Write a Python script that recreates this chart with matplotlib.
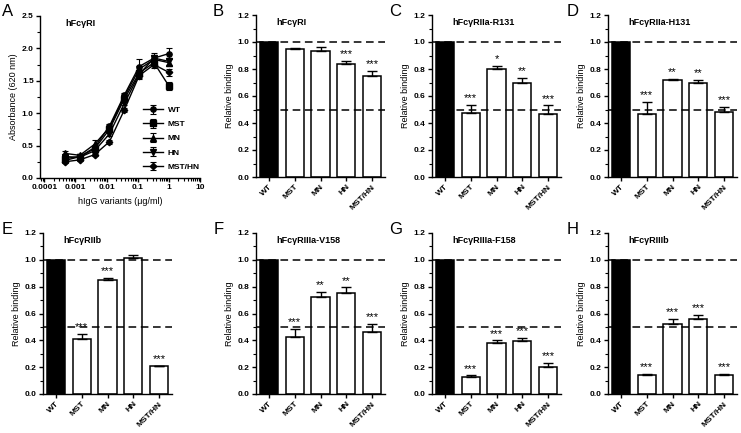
import matplotlib
matplotlib.use("Agg")
import matplotlib.pyplot as plt
import numpy as np
from matplotlib.ticker import MultipleLocator, LogLocator, NullFormatter

plt.rcParams['font.family'] = ['Liberation Sans', 'DejaVu Sans']
plt.rcParams['axes.linewidth'] = 1.0

# ---- panel A: dose response ----
conc = [0.000457, 0.00137, 0.0041, 0.0123, 0.037, 0.111, 0.333, 1.0]
abs_wt = [0.27, 0.33, 0.47, 0.80, 1.28, 1.72, 1.85, 1.92]
abs_mst = [0.30, 0.33, 0.45, 0.75, 1.22, 1.62, 1.78, 1.42]
abs_mn = [0.38, 0.35, 0.52, 0.78, 1.25, 1.68, 1.83, 1.78]
abs_hn = [0.33, 0.32, 0.42, 0.68, 1.15, 1.60, 1.85, 1.80]
abs_msthn = [0.25, 0.28, 0.36, 0.56, 1.05, 1.58, 1.75, 1.63]
err_wt = [0.02, 0.02, 0.03, 0.03, 0.03, 0.12, 0.05, 0.08]
err_mst = [0.02, 0.02, 0.02, 0.03, 0.03, 0.05, 0.05, 0.06]
err_mn = [0.03, 0.02, 0.06, 0.03, 0.03, 0.05, 0.05, 0.05]
err_hn = [0.02, 0.02, 0.02, 0.03, 0.03, 0.05, 0.08, 0.05]
err_msthn = [0.02, 0.02, 0.02, 0.03, 0.03, 0.05, 0.05, 0.05]

# ---- panels B-H: relative binding ----
variants = ['WT', 'MST', 'MN', 'HN', 'MST/HN']
titles = ['hFcγRI', 'hFcγRIIa-R131', 'hFcγRIIa-H131', 'hFcγRIIb',
          'hFcγRIIIa-V158', 'hFcγRIIIa-F158', 'hFcγRIIIb']
letters = ['B', 'C', 'D', 'E', 'F', 'G', 'H']
rel_RI = [1.0, 0.95, 0.935, 0.835, 0.75]
err_RI = [0.0, 0.005, 0.025, 0.025, 0.035]
sig_RI = ['', '', '', '***', '***']
rel_R131 = [1.0, 0.475, 0.80, 0.695, 0.47]
err_R131 = [0.0, 0.06, 0.025, 0.04, 0.06]
sig_R131 = ['', '***', '*', '**', '***']
rel_H131 = [1.0, 0.465, 0.72, 0.70, 0.48]
err_H131 = [0.0, 0.09, 0.008, 0.02, 0.04]
sig_H131 = ['', '***', '**', '**', '***']
rel_RIIb = [1.0, 0.41, 0.85, 1.01, 0.205]
err_RIIb = [0.0, 0.04, 0.015, 0.025, 0.006]
sig_RIIb = ['', '***', '***', '', '***']
rel_V158 = [1.0, 0.425, 0.72, 0.755, 0.465]
err_V158 = [0.0, 0.06, 0.04, 0.04, 0.06]
sig_V158 = ['', '***', '**', '**', '***']
rel_F158 = [1.0, 0.13, 0.38, 0.395, 0.20]
err_F158 = [0.0, 0.008, 0.02, 0.025, 0.03]
sig_F158 = ['', '***', '***', '***', '***']
rel_RIIIb = [1.0, 0.145, 0.52, 0.56, 0.14]
err_RIIIb = [0.0, 0.005, 0.04, 0.03, 0.01]
sig_RIIIb = ['', '***', '***', '***', '***']

rels = [rel_RI, rel_R131, rel_H131, rel_RIIb, rel_V158, rel_F158, rel_RIIIb]
errs = [err_RI, err_R131, err_H131, err_RIIb, err_V158, err_F158, err_RIIIb]
sigs = [sig_RI, sig_R131, sig_H131, sig_RIIb, sig_V158, sig_F158, sig_RIIIb]

W, H = 741, 433
fig = plt.figure(figsize=(W / 100, H / 100), dpi=100)


def px_axes(x0, x1, ytop, ybot):
    return fig.add_axes([x0 / W, (H - ybot) / H, (x1 - x0) / W, (ybot - ytop) / H])


def style(ax):
    for s in ['top', 'right']:
        ax.spines[s].set_visible(False)
    ax.tick_params(which='major', direction='out', length=3, width=1.0,
                   labelsize=6, pad=1.5)
    ax.tick_params(which='minor', direction='out', length=2, width=0.8)
    for lab in ax.get_xticklabels() + ax.get_yticklabels():
        lab.set_fontweight('bold')


# panel A
axA = px_axes(40, 200, 16, 178)
markers = ['o', 's', '^', 'v', 'D']
series = [abs_wt, abs_mst, abs_mn, abs_hn, abs_msthn]
serr = [err_wt, err_mst, err_mn, err_hn, err_msthn]
for ys, es, m, lab in zip(series, serr, markers, variants):
    ms = 3.3 if m == 'D' else 3.8
    axA.errorbar(conc, ys, yerr=es, color='black', marker=m, markersize=ms,
                 lw=1.0, capsize=2, elinewidth=0.8, capthick=0.8, label=lab)
axA.set_xscale('log')
axA.set_xlim(10 ** -4.14, 10)
axA.set_ylim(0, 2.5)
axA.set_xticks([0.0001, 0.001, 0.01, 0.1, 1, 10])
axA.set_xticklabels(['0.0001', '0.001', '0.01', '0.1', '1', '10'])
axA.xaxis.set_minor_locator(LogLocator(base=10, subs=np.arange(2, 10)))
axA.xaxis.set_minor_formatter(NullFormatter())
axA.yaxis.set_major_locator(MultipleLocator(0.5))
axA.yaxis.set_minor_locator(MultipleLocator(0.25))
axA.yaxis.set_major_formatter(matplotlib.ticker.FormatStrFormatter('%.1f'))
style(axA)
axA.set_ylabel('Absorbance (620 nm)', fontsize=6.5, labelpad=3)
axA.set_xlabel('hIgG variants (μg/ml)', fontsize=6.5, labelpad=4)
axA.text(0.16, 0.955, 'hFcγRI', transform=axA.transAxes, fontsize=6.5,
         fontweight='bold', va='center', ha='left')
leg = axA.legend(loc='lower left', bbox_to_anchor=(0.62, 0.02), frameon=False,
                 fontsize=6, handlelength=2.4, handletextpad=0.5,
                 labelspacing=0.75, borderpad=0)
for t in leg.get_texts():
    t.set_fontweight('bold')
fig.text(2 / W, 1 - 12 / H, 'A', fontsize=12, va='center', ha='left')

# panels B-H
lefts = [256, 432, 608, 43, 256, 432, 608]
tops = [15, 15, 15, 233, 233, 233, 233]
bots = [177, 177, 177, 394, 394, 394, 394]
letter_x = [213, 389, 567, 2, 214, 389, 567]
x = np.arange(len(variants))
for i in range(7):
    ax = px_axes(lefts[i], lefts[i] + 129, tops[i], bots[i])
    vals = rels[i]
    colors = ['black'] + ['white'] * 4
    ax.bar(x, vals, width=0.7, color=colors, edgecolor='black', linewidth=1.1,
           zorder=2)
    e = errs[i]
    ax.errorbar(x[1:], vals[1:], yerr=[np.zeros(4), e[1:]], fmt='none',
                ecolor='black', elinewidth=1.0, capsize=3.5, capthick=1.0,
                zorder=3)
    for xi, v, ei, s in zip(x, vals, e, sigs[i]):
        if s:
            ax.text(xi, v + ei + 0.012, s, ha='center', va='bottom',
                    fontsize=8, zorder=5)
    ax.axhline(1.0, color='black', lw=1.1, dashes=(5, 3), zorder=4)
    ax.axhline(0.5, color='black', lw=1.1, dashes=(5, 3), zorder=4)
    ax.set_xlim(-0.5, 4.5)
    ax.set_ylim(0, 1.2)
    ax.yaxis.set_major_locator(MultipleLocator(0.2))
    ax.yaxis.set_minor_locator(MultipleLocator(0.1))
    ax.yaxis.set_major_formatter(matplotlib.ticker.FormatStrFormatter('%.1f'))
    ax.set_xticks(x)
    ax.set_xticklabels(variants, rotation=45, ha='right', rotation_mode='anchor')
    style(ax)
    ax.set_ylabel('Relative binding', fontsize=6.5, labelpad=3)
    ax.text(0.16, 0.955, titles[i], transform=ax.transAxes, fontsize=6.5,
            fontweight='bold', va='center', ha='left')
    fig.text(letter_x[i] / W, 1 - (tops[i] - 3) / H, letters[i], fontsize=12,
             va='center', ha='left')

fig.savefig('out.png', dpi=100)
